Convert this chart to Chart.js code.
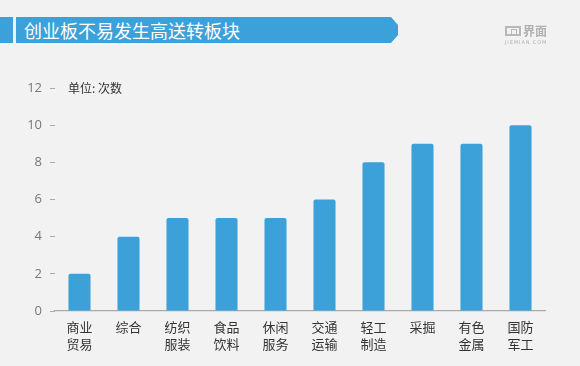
<!DOCTYPE html>
<html>
<head>
<meta charset="utf-8">
<script src="https://cdn.jsdelivr.net/npm/chart.js@4"></script>
<style>
  html, body { margin: 0; padding: 0; background: #f2f2f2; }
  #wrap { position: relative; width: 580px; height: 366px; overflow: hidden; }
  #chart { position: absolute; left: 0; top: 0; }
  .blk { position: absolute; left: 0; top: 17px; width: 13px; height: 26px; background: #3ca1d8; }
  .banner {
    position: absolute; left: 16px; top: 17px; width: 382px; height: 26px; background: #3ca1d8;
    clip-path: polygon(0 0, 375px 0, 382px 8px, 382px 18px, 375px 26px, 0 26px);
    color: #fff; font: 18px "Noto Sans CJK SC", sans-serif; line-height: 26px; padding-left: 8px; box-sizing: border-box;
  }
  .unit { position: absolute; left: 68px; top: 79px; font: 12px "Noto Sans CJK SC", sans-serif; color: #333; }
  .logo { position: absolute; left: 505px; top: 24px; color: #b0b0b0; }
  .logo .ic { position: absolute; left: 0; top: 2px; width: 16px; height: 10px; border: 2px solid #b8b8b8; box-sizing: border-box; }
  .logo .ic i { position: absolute; left: 4px; top: 1px; width: 4px; height: 4px; border: 1px solid #b8b8b8; }
  .logo .tx { position: absolute; left: 18px; top: -2px; font: bold 12px "Noto Sans CJK SC", sans-serif; white-space: nowrap; }
  .logo .dom { position: absolute; left: 0; top: 15px; font: 5px "DejaVu Sans", sans-serif; letter-spacing: 0.9px; white-space: nowrap; }
</style>
</head>
<body>
<div id="wrap">
  <canvas id="chart" width="580" height="366"></canvas>
  <div class="blk"></div>
  <div class="banner">创业板不易发生高送转板块</div>
  <div class="unit">单位: 次数</div>
  <div class="logo"><div class="ic"><i></i></div><div class="tx">界面</div><div class="dom">JIEMIAN.COM</div></div>
</div>
<script>
const categories = [
  ["商业", "贸易"], ["综合"], ["纺织", "服装"], ["食品", "饮料"], ["休闲", "服务"],
  ["交通", "运输"], ["轻工", "制造"], ["采掘"], ["有色", "金属"], ["国防", "军工"]
];
const counts = [2, 4, 5, 5, 5, 6, 8, 9, 9, 10];
const yTicks = [0, 2, 4, 6, 8, 10, 12];

const barColor = "#3ca1d8";

new Chart(document.getElementById("chart").getContext("2d"), {
  type: "bar",
  data: {
    labels: categories,
    datasets: [{
      data: counts,
      backgroundColor: barColor,
      borderRadius: { topLeft: 2, topRight: 2 },
      borderSkipped: "bottom",
      barPercentage: 0.45,
      categoryPercentage: 1
    }]
  },
  options: {
    responsive: false,
    animation: false,
    layout: { padding: { top: 88, right: 35, left: 0, bottom: 0 } },
    plugins: { legend: { display: false }, tooltip: { enabled: false } },
    scales: {
      x: {
        grid: { display: false, drawTicks: false },
        border: { display: true, color: "#aaaaaa", width: 1.3 },
        ticks: {
          color: "#333",
          padding: 8,
          maxRotation: 0,
          font: { family: "'Noto Sans CJK SC', sans-serif", size: 13, lineHeight: 1.3 }
        },
        afterFit: (s) => { s.height = 55; }
      },
      y: {
        min: yTicks[0],
        max: yTicks[yTicks.length - 1],
        afterBuildTicks: (s) => { s.ticks = yTicks.map(v => ({ value: v })); },
        grid: { drawOnChartArea: false, drawTicks: true, tickLength: 5, tickColor: "#aaaaaa", lineWidth: 1 },
        border: { display: false },
        ticks: {
          color: "#777",
          padding: 8,
          font: { family: "'Open Sans', sans-serif", size: 13 }
        },
        afterFit: (s) => { s.width = 55; }
      }
    }
  }
});
</script>
</body>
</html>
